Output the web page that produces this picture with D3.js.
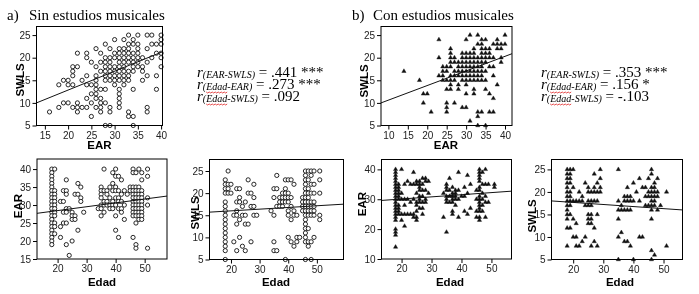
<!DOCTYPE html>
<html><head><meta charset="utf-8">
<script src="https://cdn.jsdelivr.net/npm/d3@7"></script>
<style>body{margin:0;background:#fff}svg{display:block;will-change:transform}</style>
</head><body><svg id="c" width="699" height="294"></svg>
<script>
// ---------------- DATA ----------------
const groupLetters = ["a)", "b)"];
const groupTitles = ["Sin estudios musicales", "Con estudios musicales"];

const xTicksEAR_a = [15, 20, 25, 30, 35, 40];
const xTicksEAR_b = [10, 15, 20, 25, 30, 35, 40];
const yTicksSWLS = [5, 10, 15, 20, 25];
const yTicksEAR_a = [15, 20, 25, 30, 35, 40];
const yTicksEAR_b = [10, 20, 30, 40];
const xTicksEdad = [20, 30, 40, 50];

// a) EAR (x) vs SWLS (y): rows [SWLS, [EAR...]]
const a_EAR_SWLS = [
  [25, [33,35,37,38,40]],
  [24, [30,32,34,40]],
  [23, [28,33,34,35,38,39,40]],
  [22, [26,29,31,32,33,35,37]],
  [21, [22,24,27,30,31,32,33,34,35,39,40]],
  [20, [24,28,29,30,31,32,33,34,35,36,38,40]],
  [19, [25,27,28,29,31,32,33,34,35,37]],
  [18, [21,22,26,28,29,30,31,32,34,35,36,40]],
  [17, [21,27,28,29,30,31,32,33,34,36]],
  [16, [21,24,26,28,29,30,31,32,33,37,39]],
  [15, [19,20,23,26,28,29,30,31,32,33,36]],
  [14, [18,20,21,24,25,26,30,32]],
  [13, [26,27,28,31,34,39]],
  [12, [25,26,31]],
  [11, [24,26,27,31]],
  [10, [19,20,22,25,27,28,31]],
  [9,  [18,21,22,23,24,26,27,29,31,37]],
  [8,  [16,22,27,29,33,37]],
  [7,  [25,33,34]],
  [5,  [28,29,34]]
];
// a) Edad (x) vs EAR (y): columns [Edad, [EAR...]]
const a_Edad_EAR = [
  [18, [40,39,38,37,36,35,34,33,32,31,30,29,28,27,26,25,24,23,22,21,20,19]],
  [19, [40,34,33,32,31,30,29,28,27,25,24,22]],
  [21, [31,24,21]], [22, [34,31,28,25]], [23, [37,34,33,29,28,25,19]],
  [24, [29,16]], [25, [28,27,26,20]], [26, [33,27,26]], [27, [36,33,23]],
  [28, [35,32,31]], [29, [28]], [34, [29]],
  [35, [35,34,33,32,30,29,27]], [36, [40,34,31,30,28]], [37, [34,33,31,30]],
  [38, [35,32,30,29]], [39, [39,36,34,31,30,29]], [40, [40,38,35,34,32,30,27,23]],
  [41, [38,34,32,31,29,21]], [42, [37,33,31,29,28]], [43, [34,30,26]],
  [44, [33]], [45, [35,34]],
  [46, [40,39,35,34,33,32,31,30,29,28,27,21]],
  [47, [39,35,34,33,32,31,30,29,28,27,25,19,18]],
  [48, [40,35,34,33,32,31,30,29,28,27,26]],
  [49, [39,37,34,33,32,31,30,29,28,27,26]],
  [51, [40,38,32,30,18]]
];
// a) Edad (x) vs SWLS (y)
const a_Edad_SWLS = [
  [18, [23,22,21,20,18,17,16,15,14,13,12,11,10,9,8,7,5]],
  [19, [25,22,21,20]], [20, [22,20]], [21, [15,9]],
  [22, [21,18,16,15,13,7]], [23, [21,19,18,14,10]], [24, [17,15,8]],
  [25, [18,15,13,7]], [26, [23,20,13]], [27, [20,17,9]], [28, [22,19,17,15]],
  [29, [15]], [34, [16]], [35, [21,19,15,9,7]], [36, [24,21,17,7]],
  [37, [19,18,17]], [38, [20,19,18,17]], [39, [23,21,20,19,18,5]],
  [40, [23,20,19,18,16,15,10]], [41, [23,19,17,14,9]], [42, [22,16,15,8]],
  [43, [15,10,9]], [44, [10]], [45, [19,18,17,16]],
  [46, [25,24,23,22,21,20,19,18,17,16,15,14,13,12,11,10,9,5]],
  [47, [25,23,21,20,19,18,17,16,15,12,9,8]],
  [48, [25,24,22,20,18,17,16,15,9,5]],
  [49, [25,22,20,18,17,16,15,10]],
  [51, [25,23,20,15,14]]
];
// b) EAR (x) vs SWLS (y): columns [EAR, [SWLS...]]
const b_EAR_SWLS = [
  [14, [17]], [18, [15]], [19, [12,10]], [20, [12]], [21, [8]],
  [23, [24,20,16]], [24, [18,17,16,15]],
  [25, [18,17,15,13,10,9,8]], [26, [22,21,20,19,18,16,15,14,13]],
  [27, [20,19,17,16,15,10]], [28, [19,18,17,16,14,13]],
  [29, [21,20,19,18,17,16,15,9]], [30, [24,21,20,19,18,17,16,15,14,12,9]],
  [31, [25,21,20,19,18,17,16,15,6]], [32, [22,21,20,19,18,17,16,15,13,12]],
  [33, [25,23,20,19,18,17,16,15,8,7,5]], [34, [24,23,22,21,20,19,18,17,16,15,8]],
  [35, [24,22,21,20,19,17,15,13,5]], [36, [22,21,20,18,12,8]],
  [37, [23,20,18,16,11,8]], [38, [24,23,22,14]], [39, [23,22,20,19]], [40, [25,23]]
];
// b) Edad (x) vs EAR (y)
const b_Edad_EAR = [
  [18, [40,39,38,37,36,35,34,33,32,31,30,29,28,27,26,25,24,23,20,19,18,14]],
  [19, [35,34,33,32,31,30,28,27,26,25]], [20, [40,32,30,25,23]],
  [21, [35,30,28,25,21]], [22, [36,30,25]], [23, [35,29,25]], [24, [39,35,30,25,24]],
  [25, [36,35,32,29,28,26,24,23]], [26, [36,35,34,33,31,30,29,27]],
  [27, [37,35,33,31,29,27,25]], [28, [37,36,33,30,29]], [29, [36,32]],
  [34, [32,24]], [35, [35,34,33,31,30,29,19]], [36, [37,33,31,29]],
  [37, [34,32,31,30,29,26,25]], [38, [33,32,31,30,28]], [39, [39,33,30,24]],
  [40, [31]], [41, [34,31,26]], [42, [38,32,25]], [43, [35,27]],
  [45, [33,30,26,24]], [46, [40,39,38,37,36,34,33,31,30,29,28,27,26,24,23]],
  [47, [39,35,32,30,28,26]], [48, [40,35,31,29,24]], [49, [35,29]], [51, [35,34]]
];
// b) Edad (x) vs SWLS (y)
const b_Edad_SWLS = [
  [18, [25,24,23,22,21,20,19,18,17,16,15,14,12,8]],
  [19, [25,24,23,22,20,19,18,17,15,12]], [20, [25,21,18,14,10]],
  [21, [18,13,10,8]], [22, [20,18,8]], [23, [19,18,9]], [24, [22,17,10]],
  [25, [21,20,18,17,15,14,13]], [26, [20,18,17,15,14,13,8]],
  [27, [24,21,20,18,12,9]], [28, [22,20,18,15,8]], [29, [25,23,21,20]],
  [35, [25,18,16,14,10,5]], [36, [17,16,11]], [37, [19,18,16,9]],
  [38, [21,19,18,16,9]], [39, [19,18,16,8]], [40, [22,18,5]], [41, [20]],
  [42, [23,18,10]], [43, [21,10]], [44, [21,19,17]], [45, [23,20,19,17]],
  [46, [25,24,21,20,19,18,17,16,14,7,5]], [47, [22,21,20,19,18,17,6]],
  [48, [23,20,19,16]], [49, [17]], [51, [20,8]]
];

// fitted lines: [intercept, slope]
const fit_a_EAR_SWLS = [4.50, 0.417];
const fit_a_Edad_EAR = [26.32, 0.107];
const fit_a_Edad_SWLS = [15.22, 0.0385];
const fit_b_EAR_SWLS = [7.38, 0.323];
const fit_b_Edad_EAR = [28.65, 0.0714];
const fit_b_Edad_SWLS = [18.59, -0.046];

// correlation text
const statsA = [
  {sub: [["(EAR-SWLS)", false]], val: " = .441 ***"},
  {sub: [["(", false], ["Edad", true], ["-EAR)", false]], val: " = .273 ***"},
  {sub: [["(", false], ["Edad", true], ["-SWLS)", false]], val: " = .092"}
];
const statsB = [
  {sub: [["(EAR-SWLS)", false]], val: " = .353 ***"},
  {sub: [["(", false], ["Edad", true], ["-EAR)", false]], val: " = .156 *"},
  {sub: [["(", false], ["Edad", true], ["-SWLS)", false]], val: " = -.103"}
];

// ---------------- DRAW ----------------
const svg = d3.select("#c");
const SANS = "Liberation Sans, Arial, sans-serif";
const SERIF = "Liberation Serif, Times New Roman, serif";

const rowsToPts = rows => rows.flatMap(([y, xs]) => xs.map(x => [x, y]));
const colsToPts = cols => cols.flatMap(([x, ys]) => ys.map(y => [x, y]));

function panel(o) {
  const x = d3.scaleLinear().domain(o.xd).range([o.l, o.r]);
  const y = d3.scaleLinear().domain(o.yd).range([o.b, o.t]);
  const g = svg.append("g");
  const ax = g.append("g").attr("transform", `translate(0,${o.b})`)
    .call(d3.axisBottom(x).tickValues(o.xt).tickSize(4).tickPadding(2).tickFormat(d3.format("d")));
  const ay = g.append("g").attr("transform", `translate(${o.l},0)`)
    .call(d3.axisLeft(y).tickValues(o.yt).tickSize(4).tickPadding(2).tickFormat(d3.format("d")));
  [ax, ay].forEach(a => {
    a.select(".domain").remove();
    a.selectAll("line").attr("stroke", "#000");
    a.selectAll("text").attr("font-family", SANS).attr("font-size", 10).attr("fill", "#222");
  });
  const pg = g.append("g");
  if (o.tri) {
    const sym = d3.symbol(d3.symbolTriangle, 8)();
    pg.selectAll("path").data(o.pts).join("path")
      .attr("d", sym)
      .attr("transform", d => `translate(${x(d[0])},${y(d[1])})`)
      .attr("fill", "#111").attr("stroke", "#111").attr("stroke-width", 0.4);
  } else {
    pg.selectAll("circle").data(o.pts).join("circle")
      .attr("cx", d => x(d[0])).attr("cy", d => y(d[1])).attr("r", 2.1)
      .attr("fill", "#fff").attr("stroke", "#111").attr("stroke-width", 0.9);
  }
  const [b0, b1] = o.fit;
  g.append("line")
    .attr("x1", x(o.xd[0])).attr("y1", y(b0 + b1 * o.xd[0]))
    .attr("x2", x(o.xd[1])).attr("y2", y(b0 + b1 * o.xd[1]))
    .attr("stroke", "#111").attr("stroke-width", 1);
  g.append("rect").attr("x", o.l).attr("y", o.t).attr("width", o.r - o.l).attr("height", o.b - o.t)
    .attr("fill", "none").attr("stroke", "#000").attr("stroke-width", 1);
  g.append("text").attr("x", o.xtx).attr("y", o.xty).attr("text-anchor", "middle")
    .attr("font-family", SANS).attr("font-weight", "bold").attr("font-size", 11.5).text(o.xlab);
  g.append("text").attr("transform", `translate(${o.ytx},${o.yty}) rotate(-90)`).attr("text-anchor", "middle")
    .attr("font-family", SANS).attr("font-weight", "bold").attr("font-size", 11.5).text(o.ylab);
}

panel({l: 36.5, r: 162.5, t: 26.5, b: 125.5, xd: [13.2, 40.3], yd: [5, 26.9], xt: xTicksEAR_a, yt: yTicksSWLS,
  pts: rowsToPts(a_EAR_SWLS), fit: fit_a_EAR_SWLS, xlab: "EAR", ylab: "SWLS",
  xtx: 99.5, xty: 149, ytx: 23.5, yty: 80});
panel({l: 37, r: 167, t: 159, b: 259, xd: [12.9, 57.7], yd: [15, 42.8], xt: xTicksEdad, yt: yTicksEAR_a,
  pts: colsToPts(a_Edad_EAR), fit: fit_a_Edad_EAR, xlab: "Edad", ylab: "EAR",
  xtx: 102, xty: 286, ytx: 21.5, yty: 206});
panel({l: 209.5, r: 343.5, t: 159.5, b: 259.5, xd: [12.5, 59.3], yd: [5, 27.6], xt: xTicksEdad, yt: yTicksSWLS,
  pts: colsToPts(a_Edad_SWLS), fit: fit_a_Edad_SWLS, xlab: "Edad", ylab: "SWLS",
  xtx: 276, xty: 286, ytx: 198.5, yty: 213});
panel({l: 381, r: 512, t: 26.5, b: 125.5, xd: [8.1, 41.8], yd: [5, 26.9], xt: xTicksEAR_b, yt: yTicksSWLS,
  pts: colsToPts(b_EAR_SWLS), fit: fit_b_EAR_SWLS, xlab: "EAR", ylab: "SWLS", tri: true,
  xtx: 446, xty: 149, ytx: 368, yty: 81});
panel({l: 381.5, r: 511.5, t: 159.5, b: 259, xd: [13.3, 56.7], yd: [10, 43.3], xt: xTicksEdad, yt: yTicksEAR_b,
  pts: colsToPts(b_Edad_EAR), fit: fit_b_Edad_EAR, xlab: "Edad", ylab: "EAR", tri: true,
  xtx: 450, xty: 286, ytx: 366, yty: 204});
panel({l: 551.5, r: 682.5, t: 159.5, b: 259.5, xd: [12.8, 56.3], yd: [5, 27.2], xt: xTicksEdad, yt: yTicksSWLS,
  pts: colsToPts(b_Edad_SWLS), fit: fit_b_Edad_SWLS, xlab: "Edad", ylab: "SWLS", tri: true,
  xtx: 620, xty: 286, ytx: 536, yty: 216});

// group titles
[[7, 29], [352, 373]].forEach(([lx, tx], i) => {
  const t = svg.append("text").attr("y", 20).attr("font-family", SERIF).attr("font-size", 15);
  t.append("tspan").attr("x", lx).text(groupLetters[i]);
  t.append("tspan").attr("x", tx).text(groupTitles[i]);
});

// stats blocks (one text element per line, tspans inside)
function statsBlock(x0, stats) {
  const base = [77, 89, 101];
  stats.forEach((s, i) => {
    const yb = base[i];
    const t = svg.append("text").attr("x", x0).attr("y", yb).attr("font-family", SERIF)
      .attr("fill", "#000").style("white-space", "pre");
    const r = t.append("tspan").attr("font-style", "italic").attr("font-size", 15).text("r");
    let cx = x0 + r.node().getComputedTextLength();
    const squigs = [];
    s.sub.forEach(([txt, sq], k) => {
      const ts = t.append("tspan").attr("font-style", "italic").attr("font-size", 10).text(txt);
      if (k === 0) ts.attr("dy", 1);
      const w = ts.node().getComputedTextLength();
      if (sq) squigs.push([cx, w]);
      cx += w;
    });
    t.append("tspan").attr("font-size", 15).attr("dy", -1).text(s.val);
    squigs.forEach(([sx, w]) => {
      const pts = [];
      for (let k = 0; k <= Math.round(w / 1.5); k++) pts.push([sx + k * 1.5, yb + 3 + (k % 2 ? 1 : 0)]);
      svg.append("path").attr("d", d3.line()(pts)).attr("fill", "none")
        .attr("stroke", "#e02020").attr("stroke-width", 0.8);
    });
  });
}
statsBlock(197, statsA);
statsBlock(541, statsB);
</script></body></html>
